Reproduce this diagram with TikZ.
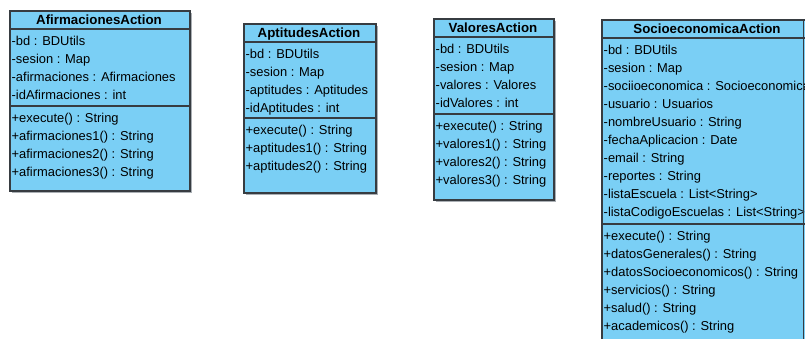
\documentclass[tikz,border=0pt]{standalone}
\usepackage{fontspec}
\setmainfont{Liberation Sans}
\definecolor{umlfill}{RGB}{122,207,245}
\definecolor{umlline}{RGB}{55,60,65}
\definecolor{umlshadow}{RGB}{170,175,180}
\tikzset{
  umlbox/.style={draw=umlline, fill=umlfill, line width=1.1pt},
  umlsep/.style={draw=umlline, line width=1.1pt},
  umlshade/.style={fill=umlshadow},
  hdr/.style={font=\fontsize{13.3}{16}\selectfont\bfseries, inner sep=0pt, anchor=base},
  row/.style={anchor=base west, font=\fontsize{12.9}{15}\selectfont, inner sep=0pt}
}
\newcommand\umlrows[4]{%
  \foreach \t [count=\i] in {#4} {
    \node[row] (#1\i) at (#2, {#3+18*\i-18+4.7}) {\t};
  }%
}
\newcommand\umlclass[9]{%
  % #1 name, #2 left, #3 top, #4 right, #5 bottom, #6 sep1, #7 sep2, #8 title
  \fill[umlshade] (#2+2,#3+2) rectangle (#4+2,#5+2);
  \path[umlbox] (#2,#3) rectangle (#4,#5);
  \draw[umlsep] (#2,#6) -- (#4,#6);
  \draw[umlsep] (#2,#7) -- (#4,#7);
  \node[hdr] (#1) at ({(#2+#4)/2-1}, {(#3+#6)/2+4.8}) {#8};
}
\begin{document}
\begin{tikzpicture}[x=1pt,y=-1pt]
\useasboundingbox (0,0) rectangle (805,339);
\clip (0,0) rectangle (805,339);

% AfirmacionesAction
\umlclass{afir}{10}{11}{190}{191}{29}{106}{AfirmacionesAction}{}
\umlrows{afirA}{11.5}{40.7}{-bd : BDUtils,-sesion : Map,-afirmaciones : Afirmaciones,-idAfirmaciones : int}
\umlrows{afirM}{11.5}{117.7}{+execute() : String,+afirmaciones1() : String,+afirmaciones2() : String,+afirmaciones3() : String}

% AptitudesAction
\umlclass{apt}{244}{24}{376}{193}{42}{118}{AptitudesAction}{}
\umlrows{aptA}{245.5}{53.5}{-bd : BDUtils,-sesion : Map,-aptitudes : Aptitudes,-idAptitudes : int}
\umlrows{aptM}{245.5}{130}{+execute() : String,+aptitudes1() : String,+aptitudes2() : String}

% ValoresAction
\umlclass{val}{434}{19}{554}{200}{37}{114}{ValoresAction}{}
\umlrows{valA}{435.5}{49}{-bd : BDUtils,-sesion : Map,-valores : Valores,-idValores : int}
\umlrows{valM}{435.5}{126}{+execute() : String,+valores1() : String,+valores2() : String,+valores3() : String}

% SocioeconomicaAction
\umlclass{soc}{602}{20}{814}{360}{38}{224}{SocioeconomicaAction}{}
\umlrows{socA}{603.5}{50}{-bd : BDUtils,-sesion : Map,-sociioeconomica : Socioeconomica,-usuario : Usuarios,-nombreUsuario : String,-fechaAplicacion : Date,-email : String,-reportes : String,-listaEscuela : List<String>,-listaCodigoEscuelas : List<String>}
\umlrows{socM}{603.5}{236}{+execute() : String,+datosGenerales() : String,+datosSocioeconomicos() : String,+servicios() : String,+salud() : String,+academicos() : String}
\draw[umlsep] (803.5,20) -- (803.5,339);
\end{tikzpicture}
\end{document}
